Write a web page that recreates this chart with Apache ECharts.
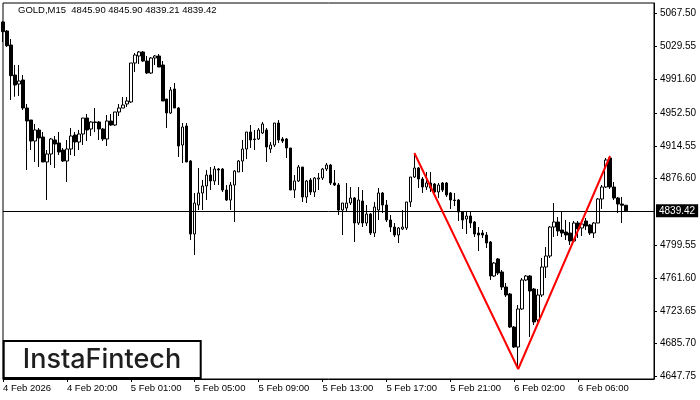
<!DOCTYPE html>
<html>
<head>
<meta charset="utf-8">
<script src="https://cdn.jsdelivr.net/npm/echarts@6/dist/echarts.min.js"></script>
<style>html,body{margin:0;padding:0;background:#fff;}#c{width:700px;height:400px;}</style>
</head>
<body>
<div id="c"></div>
<script>
// ---- data ----
const symbolTitle = 'GOLD,M15  4845.90 4845.90 4839.21 4839.42';
const opens = [
5057.90,5047.48,5031.28,4996.57,4986.16,4990.79,4958.39,4944.51,4920.21,4932.94,
4924.84,4895.92,4905.17,4921.37,4917.90,4909.80,4897.07,4910.96,4927.15,4919.06,
4928.31,4946.82,4934.10,4942.20,4942.20,4934.10,4922.53,4943.35,4938.72,4953.77,
4958.39,4963.02,4965.34,5010.46,5018.56,5023.19,5012.77,4998.89,5016.24,5018.56,
5008.14,4968.81,4952.61,4980.38,4958.39,4915.58,4937.57,4897.07,4812.61,4846.16,
4860.05,4868.15,4880.87,4873.93,4887.82,4887.82,4863.52,4851.95,4869.30,4884.35,
4897.07,4910.96,4930.63,4922.53,4922.53,4929.47,4932.94,4910.96,4915.58,4941.04,
4922.53,4922.53,4912.11,4863.52,4873.93,4890.13,4855.42,4875.09,4861.21,4876.25,
4877.40,4887.82,4892.44,4871.62,4869.30,4840.38,4842.69,4848.48,4854.26,4825.34,
4850.79,4825.34,4835.75,4813.77,4840.38,4860.05,4846.16,4828.81,4820.71,4811.45,
4818.40,4819.55,4849.64,4878.56,4888.97,4876.25,4866.99,4871.62,4870.46,4861.21,
4871.62,4871.62,4860.05,4851.95,4851.95,4838.07,4829.97,4833.44,4826.50,4813.77,
4813.77,4811.45,4803.36,4764.02,4783.69,4768.65,4751.29,4743.19,4705.01,4681.87,
4725.84,4759.39,4764.02,4748.98,4713.11,4742.03,4774.43,4787.16,4820.71,4826.50,
4817.24,4814.93,4813.77,4804.51,4825.34,4819.55,4827.65,4823.02,4813.77,4825.34,
4853.11,4866.99,4900.54,4866.99,4854.26,4847.32,4845.90];
const closes = [
5046.67,5030.48,4995.77,4985.00,4989.63,4958.39,4943.35,4920.21,4932.94,4923.68,
4895.92,4905.17,4922.53,4916.74,4907.49,4897.07,4910.96,4926.00,4919.06,4928.31,
4946.82,4932.94,4942.20,4941.62,4934.10,4922.53,4943.35,4938.72,4953.77,4958.39,
4961.86,4966.49,5010.46,5019.71,5023.19,5012.77,4998.89,5016.24,5018.56,5005.83,
4966.49,4952.61,4979.22,4958.39,4914.43,4936.41,4895.92,4812.61,4848.48,4860.05,
4868.15,4880.87,4873.93,4887.82,4886.66,4863.52,4851.95,4869.30,4885.50,4897.07,
4910.96,4930.63,4921.37,4921.95,4932.94,4939.88,4913.27,4915.58,4941.04,4921.37,
4920.21,4912.11,4863.52,4873.93,4890.13,4855.42,4873.93,4861.21,4877.40,4877.40,
4887.82,4892.44,4871.62,4869.30,4840.38,4848.48,4848.48,4854.26,4825.34,4851.95,
4825.34,4835.75,4813.77,4843.85,4860.05,4846.16,4828.81,4820.71,4811.45,4819.55,
4820.71,4849.64,4878.56,4888.97,4876.25,4866.99,4871.62,4865.83,4861.21,4869.30,
4863.52,4857.73,4851.95,4851.37,4838.07,4828.81,4833.44,4825.34,4812.61,4811.45,
4811.45,4802.20,4764.02,4779.06,4767.49,4751.29,4742.03,4705.01,4681.87,4725.84,
4759.39,4764.02,4746.66,4710.80,4742.03,4774.43,4787.16,4820.71,4826.50,4816.08,
4813.77,4811.45,4804.51,4825.34,4818.40,4824.18,4821.87,4813.77,4825.34,4853.11,
4866.99,4898.23,4866.99,4854.26,4847.32,4845.90,4839.42];
const highs = [
5059.05,5048.64,5038.23,5008.14,5008.14,4996.57,4963.02,4944.51,4939.88,4935.25,
4930.63,4909.80,4923.68,4926.00,4930.63,4912.11,4921.37,4935.25,4930.63,4932.94,
4946.82,4951.45,4943.35,4958.39,4943.35,4935.25,4950.29,4951.45,4953.77,4963.02,
4971.12,4971.12,5010.46,5022.03,5024.34,5024.34,5018.56,5017.40,5019.71,5020.87,
5012.77,4968.81,4982.69,4987.32,4959.55,4941.04,4941.04,4898.23,4860.05,4888.97,
4875.09,4886.66,4890.13,4891.29,4888.97,4888.97,4869.30,4872.78,4886.66,4898.23,
4921.37,4930.63,4938.72,4932.94,4935.25,4942.20,4935.25,4919.06,4941.04,4944.51,
4924.84,4923.68,4912.11,4880.87,4892.44,4890.13,4875.09,4877.40,4878.56,4883.19,
4888.97,4894.76,4893.60,4886.66,4871.62,4848.48,4871.62,4866.99,4855.42,4866.99,
4863.52,4846.16,4836.91,4849.64,4865.83,4861.21,4851.95,4834.59,4825.34,4820.71,
4840.38,4849.64,4878.56,4906.33,4890.13,4878.56,4884.35,4884.35,4871.62,4871.62,
4872.78,4872.78,4861.21,4860.05,4853.11,4839.22,4839.22,4838.07,4827.65,4820.71,
4817.24,4814.93,4804.51,4780.22,4784.84,4770.96,4755.92,4744.35,4706.17,4730.46,
4761.70,4765.17,4765.17,4750.13,4748.98,4784.84,4797.57,4821.87,4848.48,4832.28,
4839.22,4828.81,4826.50,4827.65,4827.65,4826.50,4831.12,4824.18,4826.50,4854.26,
4869.30,4900.54,4902.86,4872.78,4855.42,4855.42,4845.90];
const lows = [
5034.76,5028.97,4967.65,4971.47,4972.28,4956.08,4886.66,4909.80,4895.92,4890.13,
4895.92,4851.95,4892.44,4888.97,4904.01,4895.92,4872.78,4904.01,4902.86,4909.80,
4915.58,4920.21,4926.00,4930.63,4921.37,4920.21,4914.43,4937.57,4937.57,4949.14,
4958.39,4959.55,4964.18,5000.05,5009.30,5011.62,4997.73,4997.73,5008.14,5005.83,
4966.49,4935.25,4951.45,4958.39,4901.70,4894.76,4895.92,4805.67,4788.31,4840.38,
4840.38,4851.95,4863.52,4869.30,4869.30,4861.21,4850.79,4840.38,4826.50,4884.35,
4884.35,4899.39,4912.11,4909.80,4921.37,4928.31,4895.92,4906.33,4913.27,4917.90,
4917.90,4900.54,4863.52,4854.26,4872.78,4849.64,4848.48,4857.73,4855.42,4863.52,
4875.09,4885.50,4869.30,4868.15,4834.59,4811.45,4838.07,4846.16,4803.36,4823.02,
4820.71,4821.87,4811.45,4809.14,4828.81,4836.91,4826.50,4814.93,4809.14,4802.20,
4817.24,4817.24,4843.85,4877.40,4865.83,4860.05,4863.52,4861.21,4860.05,4854.26,
4861.21,4855.42,4841.54,4845.01,4827.65,4818.40,4812.61,4819.55,4809.14,4792.94,
4807.98,4796.41,4759.39,4762.86,4765.17,4747.82,4739.72,4703.85,4680.71,4656.42,
4724.68,4758.23,4693.44,4707.32,4710.80,4739.72,4761.70,4784.84,4809.14,4810.30,
4809.14,4805.67,4799.88,4803.36,4807.98,4810.30,4817.24,4811.45,4807.98,4825.34,
4841.54,4865.83,4864.68,4851.95,4836.91,4825.34,4839.21];
const currentPrice = 4839.42;
const priceTicks = [5067.50, 5029.55, 4991.60, 4952.50, 4914.55, 4876.60, 4799.55, 4761.60, 4723.65, 4685.70, 4647.75];
// pattern (red V) anchor bars and prices
const patternIdx = [103, 129, 152];
const patternVal = [4906.33, 4656.42, 4902.86];
const totalSlots = 164; // bars plus empty space on the right

// ---- categories: M15 bars from 4 Feb 16:00, the 00:00 hour is a market break ----
function makeTimes(n) {
  const out = [];
  let d = 4, h = 16, m = 0;
  while (out.length < n) {
    if (h !== 0) out.push(d + ' Feb ' + String(h).padStart(2, '0') + ':' + String(m).padStart(2, '0'));
    m += 15;
    if (m === 60) { m = 0; h += 1; if (h === 24) { h = 0; d += 1; } }
  }
  return out;
}
const times = makeTimes(totalSlots);
const ohlc = opens.map((o, i) => [o, closes[i], lows[i], highs[i]]);
const showTick = (idx) => idx % 16 === 0 && idx <= 144;
const FONT = 'Liberation Sans';

const chart = echarts.init(document.getElementById('c'));
chart.setOption({
  animation: false,
  backgroundColor: '#ffffff',
  title: {
    text: symbolTitle, left: 15, top: 4, padding: [1, 3],
    backgroundColor: '#ffffff',
    textStyle: { fontSize: 9.5, fontWeight: 'normal', color: '#000', fontFamily: FONT }
  },
  grid: { left: 3, right: 46, top: 3, bottom: 21, show: true, borderColor: '#000', borderWidth: 1, backgroundColor: 'transparent' },
  xAxis: {
    type: 'category', data: times, boundaryGap: false,
    axisLine: { lineStyle: { color: '#000', width: 1 } },
    axisTick: { show: true, interval: (i) => showTick(i), length: 3, lineStyle: { color: '#000' } },
    axisLabel: {
      interval: (i) => showTick(i), align: 'left', color: '#000', fontSize: 9.5, fontFamily: FONT, margin: 4,
      formatter: (v, i) => (i === 0 ? '4 Feb 2026' : v)
    },
    splitLine: { show: false }
  },
  yAxis: {
    type: 'value', position: 'right', min: 4644.85, max: 5079.88,
    axisLine: { show: true, lineStyle: { color: '#000', width: 1 } },
    axisTick: { show: true, customValues: priceTicks, length: 3, lineStyle: { color: '#000' } },
    axisLabel: { customValues: priceTicks, formatter: (v) => Number(v).toFixed(2), color: '#000', fontSize: 10, fontFamily: FONT, margin: 6 },
    splitLine: { show: false }
  },
  series: [
    {
      type: 'candlestick', data: ohlc, barWidth: 3,
      itemStyle: { color: '#ffffff', color0: '#000000', borderColor: '#000000', borderColor0: '#000000', borderWidth: 1 },
      markLine: {
        symbol: ['none', 'none'], silent: true, animation: false,
        lineStyle: { color: '#000', width: 1, type: 'solid' },
        label: { show: true, position: 'end', formatter: currentPrice.toFixed(2), color: '#fff', backgroundColor: '#000', padding: [2, 3, 1, 3], fontSize: 10, fontFamily: FONT, distance: 2 },
        data: [{ yAxis: currentPrice }]
      }
    },
    {
      type: 'line', data: patternIdx.map((x, k) => [x, patternVal[k]]),
      symbol: 'none', lineStyle: { color: '#ff0000', width: 2 }, z: 5, silent: true
    }
  ],
  graphic: [
    { type: 'rect', z: 100, shape: { x: 3.7, y: 341, width: 197, height: 37 }, style: { fill: '#fff', stroke: '#000', lineWidth: 2 } },
    { type: 'text', z: 101, x: 102, y: 359.5, style: { text: 'InstaFintech', fontSize: 27, fontFamily: 'Inter', fontWeight: 500, fill: '#1e1e1e', align: 'center', verticalAlign: 'middle' } }
  ]
});
</script>
</body>
</html>
